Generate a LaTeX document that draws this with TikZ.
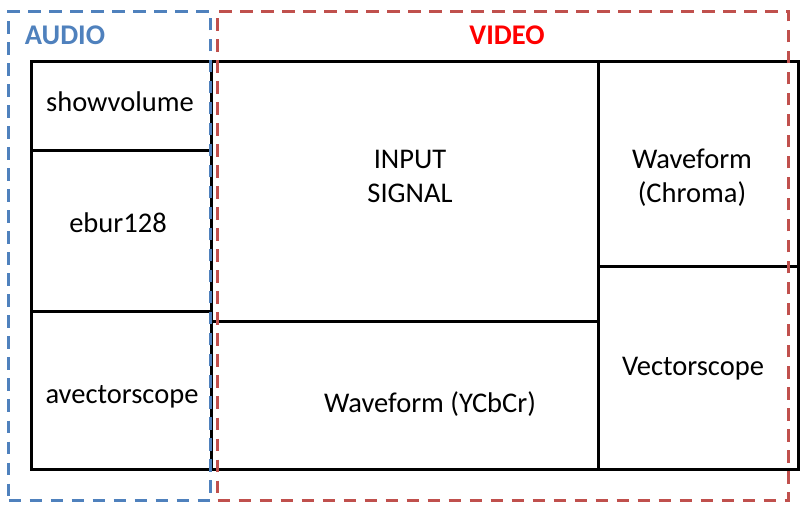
\documentclass[tikz,border=0pt]{standalone}
\usepackage{fontspec}
\setmainfont{Carlito}
\usetikzlibrary{positioning}
\definecolor{audioblue}{HTML}{4F81BD}
\definecolor{videored}{HTML}{C0504D}

\begin{document}
\begin{tikzpicture}[
  x=1pt, y=-1pt,
  cell/.style={draw, line width=2.8pt, anchor=north west, inner sep=0pt},
  txt/.style={font=\fontsize{28.5}{34}\selectfont, align=center, anchor=base},
  grp/.style={draw=#1, dash pattern=on 12.5pt off 8.5pt, line width=3pt,
    anchor=north west, inner sep=0pt},
  head/.style={font=\fontsize{28.5}{34}\selectfont\bfseries, anchor=base}
]
  \useasboundingbox (0,0) rectangle (811,510);
  % Cells
  \node[cell, minimum width=180, minimum height=89] (showvol) at (30,60) {};
  \node[cell, minimum width=180, minimum height=161] (ebur) at (30,149) {};
  \node[cell, minimum width=180, minimum height=158] (avscope) at (30,310) {};
  \node[cell, minimum width=387, minimum height=260] (input) at (210,60) {};
  \node[cell, minimum width=387, minimum height=148] (wfycc) at (210,320) {};
  \node[cell, minimum width=200, minimum height=205] (wfchroma) at (597,60) {};
  \node[cell, minimum width=200, minimum height=203] (vscope) at (597,265) {};
  % Cell texts (base = last line)
  \node[txt] (showvoltxt) at (120,112) {showvolume};
  \node[txt] (eburtxt) at (118,233) {ebur128};
  \node[txt] (avscopetxt) at (122,403) {avectorscope};
  \node[txt] (inputtxt) at (410,203) {INPUT\\SIGNAL};
  \node[txt] (wfyccTxt) at (430,412) {Waveform (YCbCr)};
  \node[txt] (wfchromatxt) at (692,203) {Waveform\\(Chroma)};
  \node[txt] (vscopetxt) at (693,376) {Vectorscope};
  % Groups
  \node[grp=audioblue, minimum width=202, minimum height=489] (audio) at (7,10) {};
  \node[grp=videored, minimum width=571, minimum height=489] (video) at (216,10) {};
  \node[head, text=audioblue] (audiohead) at (65,45) {AUDIO};
  \node[head, text=red] (videohead) at (507,45) {VIDEO};
\end{tikzpicture}
\end{document}
